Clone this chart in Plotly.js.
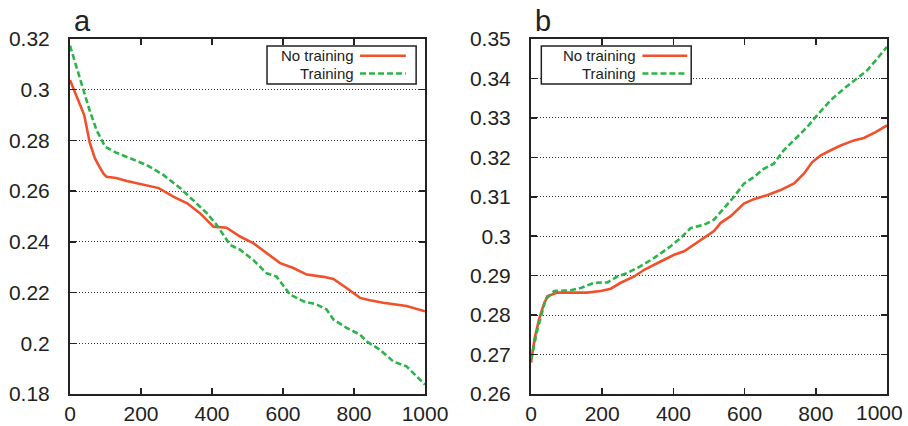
<!DOCTYPE html>
<html><head><meta charset="utf-8">
<script src="https://cdn.plot.ly/plotly-3.0.1.min.js"></script>
<style>html,body{margin:0;padding:0;background:#fff}#chart{width:908px;height:426px}</style>
</head><body><div id="chart"></div>
<script>
// Panel a
const aNoTrainX = [0, 20, 40, 56, 70, 83, 95, 103, 130, 160, 216, 250, 291, 330, 366, 404, 441, 479, 516, 554, 592, 629, 667, 714, 742, 779, 817, 845, 882, 948, 1000];
const aNoTrainY = [0.3038, 0.2970, 0.2900, 0.2789, 0.2730, 0.2696, 0.2668, 0.2657, 0.2652, 0.2640, 0.2624, 0.2612, 0.2578, 0.2552, 0.2513, 0.2460, 0.2456, 0.2421, 0.2395, 0.2356, 0.2316, 0.2297, 0.2271, 0.2262, 0.2254, 0.2218, 0.2179, 0.2170, 0.2160, 0.2147, 0.2126];
const aTrainX = [0, 20, 37, 55, 75, 99, 130, 178, 216, 263, 310, 350, 385, 413, 451, 479, 516, 554, 582, 620, 657, 695, 723, 742, 779, 817, 835, 873, 911, 948, 1000];
const aTrainY = [0.3174, 0.3080, 0.2997, 0.2920, 0.2840, 0.2775, 0.2752, 0.2723, 0.2703, 0.2664, 0.2612, 0.2560, 0.2514, 0.2467, 0.2388, 0.2369, 0.2329, 0.2276, 0.2263, 0.2192, 0.2166, 0.2153, 0.2133, 0.2094, 0.2061, 0.2034, 0.2008, 0.1975, 0.1928, 0.1909, 0.1837];
// Panel b
const bNoTrainX = [0, 10, 22.5, 35, 46, 74, 158, 196, 224, 252, 290, 318, 364, 402, 430, 458, 486, 514, 533, 561, 598, 626, 663, 701, 739, 767, 790, 814, 842, 870, 907, 935, 968, 1000];
const bNoTrainY = [0.2679, 0.2740, 0.2789, 0.2825, 0.2848, 0.2857, 0.2857, 0.2861, 0.2867, 0.2882, 0.2898, 0.2915, 0.2936, 0.2953, 0.2962, 0.2979, 0.2996, 0.3013, 0.3034, 0.3051, 0.3083, 0.3094, 0.3104, 0.3117, 0.3134, 0.3159, 0.3188, 0.3205, 0.3218, 0.3230, 0.3243, 0.3249, 0.3264, 0.3281];
const bTrainX = [0, 18, 41, 65, 112, 140, 177, 215, 243, 271, 308, 346, 393, 421, 449, 486, 514, 533, 570, 598, 626, 654, 682, 710, 739, 776, 804, 842, 879, 917, 945, 973, 1000];
const bTrainY = [0.2687, 0.2763, 0.2840, 0.2861, 0.2863, 0.2869, 0.2882, 0.2883, 0.2898, 0.2907, 0.2924, 0.2945, 0.2975, 0.2996, 0.3021, 0.3029, 0.3042, 0.3062, 0.3100, 0.3133, 0.3150, 0.3171, 0.3184, 0.3218, 0.3243, 0.3277, 0.3307, 0.3345, 0.3374, 0.3400, 0.3421, 0.3451, 0.3480];
const seriesNames = ["No training", "Training"];
const panelLabels = ["a", "b"];
const xTicks = [0, 200, 400, 600, 800, 1000];
const aYTicks = [0.18, 0.2, 0.22, 0.24, 0.26, 0.28, 0.3, 0.32];
const bYTicks = [0.26, 0.27, 0.28, 0.29, 0.3, 0.31, 0.32, 0.33, 0.34, 0.35];

const RED = "#F0502A", GREEN = "#2CB34A";
const redLine = {color: RED, width: 2.6};
const greenLine = {color: GREEN, width: 2.6, dash: "6px,3px"};

const traces = [
  {x: aNoTrainX, y: aNoTrainY, xaxis: "x", yaxis: "y", mode: "lines", line: redLine, name: seriesNames[0]},
  {x: aTrainX, y: aTrainY, xaxis: "x", yaxis: "y", mode: "lines", line: greenLine, name: seriesNames[1]},
  {x: bNoTrainX, y: bNoTrainY, xaxis: "x2", yaxis: "y2", mode: "lines", line: redLine, name: seriesNames[0]},
  {x: bTrainX, y: bTrainY, xaxis: "x2", yaxis: "y2", mode: "lines", line: greenLine, name: seriesNames[1]}
];

const tickFont = {family: "Liberation Sans, Arial, sans-serif", size: 21, color: "#222"};
function xax(dom, anchor, lastInside) {
  // when lastInside, the final label is drawn as an annotation pulled inside the page edge
  const txt = xTicks.map((v, i) => (lastInside && i === xTicks.length - 1) ? "" : String(v));
  return {domain: dom, anchor: anchor, range: [0, 1000], tickvals: xTicks, ticktext: txt,
    ticks: "inside", ticklen: 6, tickwidth: 1.5, tickcolor: "#222", showline: true, linecolor: "#222", linewidth: 2,
    mirror: "ticks", showgrid: false, zeroline: false, tickfont: tickFont, ticklabelstandoff: 0,
    ticklabeloverflow: "allow", fixedrange: true};
}
function yax(rng, vals, anchor) {
  return {domain: [0, 1], anchor: anchor, range: rng, tickvals: vals, ticktext: vals.map(String),
    ticks: "inside", ticklen: 6, tickwidth: 1.5, tickcolor: "#222", showline: true, linecolor: "#222", linewidth: 2,
    mirror: "ticks", showgrid: true, gridcolor: "#333", gridwidth: 1, griddash: "1px,2px", zeroline: false,
    tickfont: tickFont, ticklabelstandoff: 14, ticklabeloverflow: "allow", fixedrange: true};
}

const legFont = {family: "Liberation Sans, Arial, sans-serif", size: 15, color: "#222"};
function legendItems(xr, yr, box, textRight, lineX, rows) {
  const shapes = [
    {type: "rect", xref: xr + " domain", yref: yr + " domain", x0: box[0], x1: box[1], y0: box[2], y1: box[3],
      line: {color: "#222", width: 1.5}, fillcolor: "#fff", layer: "above"},
    {type: "line", xref: xr + " domain", yref: yr + " domain", x0: lineX[0], x1: lineX[1], y0: rows[0], y1: rows[0], line: {color: RED, width: 2.6}},
    {type: "line", xref: xr + " domain", yref: yr + " domain", x0: lineX[0], x1: lineX[1], y0: rows[1], y1: rows[1], line: {color: GREEN, width: 2.6, dash: "6px,3px"}}
  ];
  const ann = seriesNames.map((n, i) => ({text: n, xref: xr + " domain", yref: yr + " domain", x: textRight, y: rows[i],
    xanchor: "right", yanchor: "middle", showarrow: false, font: legFont, borderpad: 0}));
  return {shapes, ann};
}
const la = legendItems("x", "y", [0.555, 0.975, 0.873, 0.980], 0.803, [0.817, 0.946], [0.953, 0.903]);
const lb = legendItems("x2", "y2", [0.029, 0.450, 0.873, 0.980], 0.297, [0.313, 0.439], [0.953, 0.903]);

const labFont = {family: "Liberation Sans, Arial, sans-serif", size: 29, color: "#222"};
const panelAnn = [
  {text: panelLabels[0], xref: "paper", yref: "paper", x: 72/908, y: 1, xanchor: "left", yanchor: "bottom", yshift: 0, showarrow: false, font: labFont},
  {text: panelLabels[1], xref: "paper", yref: "paper", x: 533/908, y: 1, xanchor: "left", yanchor: "bottom", yshift: 0, showarrow: false, font: labFont},
  {text: String(xTicks[xTicks.length - 1]), xref: "x2", yref: "y2 domain", x: xTicks[xTicks.length - 1], y: 0,
    xanchor: "right", yanchor: "top", xshift: 17, yshift: -6, showarrow: false, font: tickFont, borderpad: 0}
];

const layout = {
  width: 908, height: 426, margin: {l: 0, r: 0, t: 39, b: 32},
  paper_bgcolor: "#fff", plot_bgcolor: "#fff", showlegend: false,
  xaxis: xax([70/908, 425/908], "y", false),
  yaxis: yax([0.18, 0.32], aYTicks, "x"),
  xaxis2: xax([531/908, 887/908], "y2", true),
  yaxis2: yax([0.26, 0.35], bYTicks, "x2"),
  shapes: la.shapes.concat(lb.shapes),
  annotations: la.ann.concat(lb.ann).concat(panelAnn)
};
Plotly.newPlot("chart", traces, layout, {staticPlot: true, displayModeBar: false});
</script></body></html>
